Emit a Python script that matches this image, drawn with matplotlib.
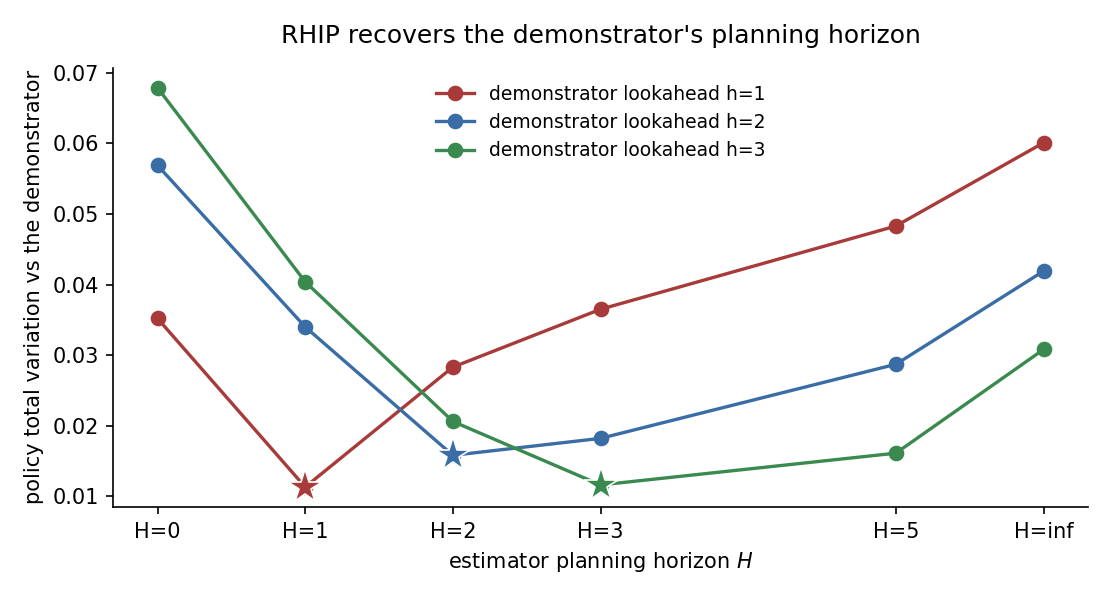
import numpy as np
import matplotlib.pyplot as plt

# estimator horizons (inf drawn at position 6)
x_pos = [0, 1, 2, 3, 5, 6]
x_labels = ['H=0', 'H=1', 'H=2', 'H=3', 'H=5', 'H=inf']

tv_h1 = [0.0352, 0.0113, 0.0283, 0.0365, 0.0483, 0.0601]
tv_h2 = [0.0569, 0.0340, 0.0158, 0.0182, 0.0287, 0.0419]
tv_h3 = [0.0679, 0.0404, 0.0206, 0.0116, 0.0161, 0.0308]

series = [tv_h1, tv_h2, tv_h3]
names = ['demonstrator lookahead h=1', 'demonstrator lookahead h=2', 'demonstrator lookahead h=3']
colors = ['#a83a3a', '#3a6ca5', '#3a8a4f']
best = [1, 2, 3]  # index of true horizon -> star

fig, ax = plt.subplots(figsize=(7.4, 4), dpi=150)
fig.subplots_adjust(left=0.102, right=0.980, bottom=0.155, top=0.887)

for vals, name, c, b in zip(series, names, colors, best):
    ax.plot(x_pos, vals, '-o', color=c, lw=1.6, ms=6.5, label=name)
    ax.plot(x_pos[b], vals[b], marker='*', color=c, ms=17, mec='white', mew=0.8, ls='none', zorder=5)

ax.set_xticks(x_pos)
ax.set_xticklabels(x_labels)
ax.set_xlabel('estimator planning horizon $H$')
ax.set_ylabel('policy total variation vs the demonstrator')
ax.set_title("RHIP recovers the demonstrator's planning horizon", pad=12)
ax.spines['top'].set_visible(False)
ax.spines['right'].set_visible(False)
ax.legend(loc='upper center', bbox_to_anchor=(0.5, 1.0), frameon=False, fontsize=9)

fig.savefig('out.png')
